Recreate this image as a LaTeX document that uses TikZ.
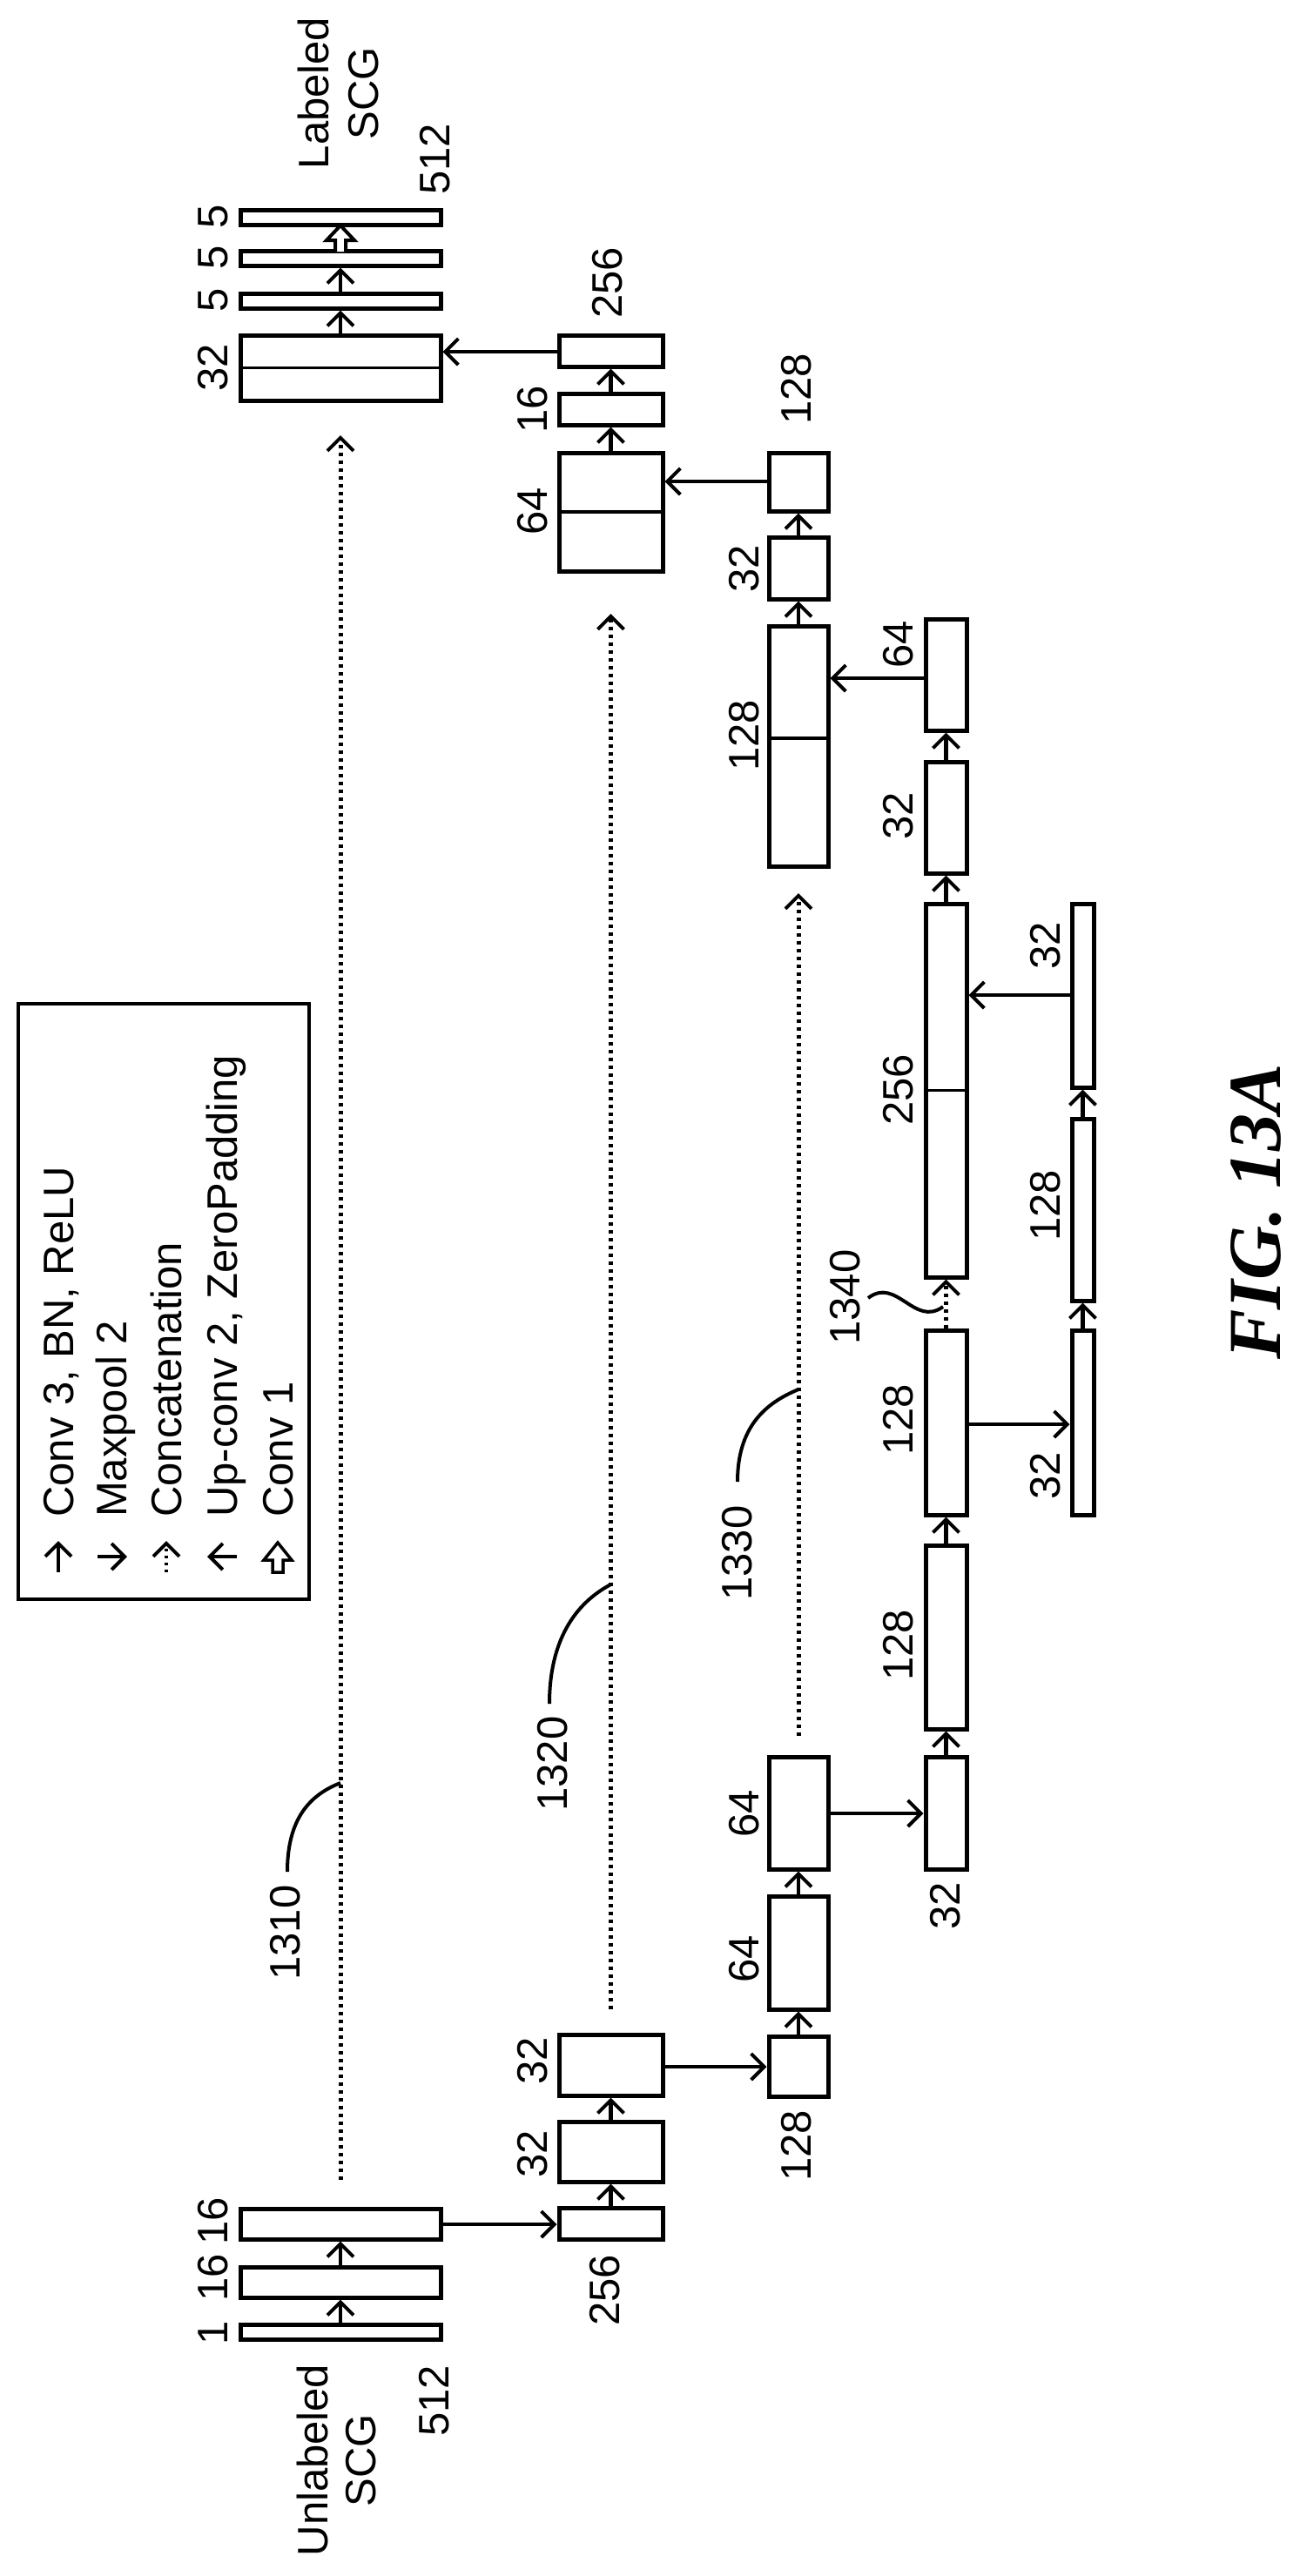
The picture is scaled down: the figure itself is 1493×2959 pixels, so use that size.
\documentclass[tikz,border=0pt]{standalone}
\usepackage{fontspec}
\setmainfont{Liberation Sans}
\newfontfamily\figfont{Liberation Serif}
\usetikzlibrary{arrows.meta}
\begin{document}
\begin{tikzpicture}[x=1pt,y=-1pt,
  box/.style={draw,line width=5pt,inner sep=0pt,rectangle},
  div/.style={line width=3.5pt},
  lab/.style={rotate=90,inner sep=0pt,font=\fontsize{49}{50}\selectfont},
  leg/.style={rotate=90,inner sep=0pt,anchor=base west,font=\fontsize{49}{50}\selectfont},
  tip/.style={-{Straight Barb[length=15pt,width=30pt,line width=4pt]}},
  conv/.style={tip,line width=4.5pt},
  pool/.style={tip,line width=4.5pt},
  up/.style={tip,line width=4.5pt},
  cat/.style={tip,line width=5pt,dash pattern=on 4pt off 5pt},
  lead/.style={line width=4pt},
  hollow/.style={draw,line width=4pt,fill=white,line join=miter}]
\useasboundingbox (0,0) rectangle (1493,2959);
\newcommand{\bx}[5]{\node[box,minimum width=#4pt,minimum height=#5pt] (#1) at (#2,#3) {};}
% output column
\bx{o5c}{391}{249.5}{230}{17}
\bx{o5b}{391}{296.5}{230}{17}
\bx{o5a}{391}{345.5}{230}{17}
\bx{o32}{391}{422.5}{230}{75}
\draw[div] (o32.west) -- (o32.east);
% input column
\bx{i16b}{391}{2554.5}{230}{35}
\bx{i16a}{391}{2621.5}{230}{35}
\bx{i1}{391}{2678.5}{230}{17}
% col 2
\bx{d256}{701.5}{403}{119}{36}
\bx{d16}{701.5}{470}{119}{36}
\bx{d64}{701.5}{588}{119}{136}
\draw[div] (d64.west) -- (d64.east);
\bx{e256}{701.5}{2554}{119}{36}
\bx{e32b}{701.5}{2471.5}{119}{69}
\bx{e32a}{701.5}{2372}{119}{70}
% col 3
\bx{d128s}{917}{553.5}{68}{67}
\bx{d32}{917}{652.5}{68}{71}
\bx{d128c}{917}{857}{68}{276}
\draw[div] (d128c.west |- 0,848) -- (d128c.east |- 0,848);
\bx{e128}{917}{2373.5}{68}{69}
\bx{e64b}{917}{2243}{68}{130}
\bx{e64a}{917}{2082.5}{68}{129}
% col 4
\bx{c64}{1086.5}{775}{47}{128}
\bx{c32}{1086.5}{939}{47}{128}
\bx{c256}{1086.5}{1252.5}{47}{429}
\draw[div] (c256.west) -- (c256.east);
\bx{c128b}{1086.5}{1634}{47}{212}
\bx{c128a}{1086.5}{1880.5}{47}{211}
\bx{c32e}{1086.5}{2082.5}{47}{129}
% col 5
\bx{b32t}{1243.5}{1143.5}{25}{211}
\bx{b128}{1243.5}{1389.5}{25}{209}
\bx{b32b}{1243.5}{1634}{25}{212}
% conv 3 arrows
\foreach \a/\b in {i1/i16a,i16a/i16b,e256/e32b,e32b/e32a,e128/e64b,e64b/e64a,
  c32e/c128a,c128a/c128b,c256/c32,c32/c64,d128c/d32,d32/d128s,d64/d16,d16/d256,o32/o5a,o5a/o5b,b32b/b128,b128/b32t}
  \draw[conv] (\a.north) -- (\b.south);
% conv 1
\draw[hollow] (385,289) -- (385,276) -- (375,276) -- (391,259) -- (407,276) -- (397,276) -- (397,289);
% maxpool
\draw[pool] (i16b.east |- 0,2555) -- (e256.west |- 0,2555);
\draw[pool] (e32a.east |- 0,2374) -- (e128.west |- 0,2374);
\draw[pool] (e64a.east |- 0,2083) -- (c32e.west |- 0,2083);
\draw[pool] (c128b.east |- 0,1636) -- (b32b.west |- 0,1636);
% up-conv
\draw[up] (b32t.west |- 0,1143) -- (c256.east |- 0,1143);
\draw[up] (c64.west |- 0,779) -- (d128c.east |- 0,779);
\draw[up] (d128s.west |- 0,553) -- (d64.east |- 0,553);
\draw[up] (d256.west |- 0,404) -- (o32.east |- 0,404);
% concatenation
\coordinate (s1310) at (391,2504); \coordinate (t1310) at (391,500);
\coordinate (s1320) at (701.5,2308); \coordinate (t1320) at (701.5,705);
\coordinate (s1330) at (917,1994); \coordinate (t1330) at (917,1026);
\draw[cat] (s1310) -- (t1310);
\draw[cat] (s1320) -- (t1320);
\draw[cat] (s1330) -- (t1330);
\draw[cat] (c128b.north) -- (c256.south);
% leaders
\draw[lead] (330,2150) .. controls (330,2090) and (355,2062) .. (391,2048);
\draw[lead] (631,1957) .. controls (631,1885) and (660,1842) .. (701.5,1820);
\draw[lead] (847,1702) .. controls (847,1640) and (878,1612) .. (917,1596);
\draw[lead] (997,1491) .. controls (1030,1466) and (1050,1525) .. (1083,1501);
% labels
\node[lab] (lLab) at (360,107) {Labeled};
\node[lab] (lSCGo) at (418,107) {SCG};
\node[lab] (l512o) at (500,183) {512};
\node[lab] (l5c) at (245,249) {5};
\node[lab] (l5b) at (245,296) {5};
\node[lab] (l5a) at (245,345) {5};
\node[lab] (l32o) at (245,422) {32};
\node[lab] (ld256) at (698,325) {256};
\node[lab] (ld16) at (612,470) {16};
\node[lab] (ld64) at (612,587) {64};
\node[lab] (ld128s) at (915,447) {128};
\node[lab] (ld32) at (855,653) {32};
\node[lab] (ld128c) at (855,845) {128};
\node[lab] (lc64) at (1032,740) {64};
\node[lab] (lc32) at (1032,937) {32};
\node[lab] (lc256) at (1032,1252) {256};
\node[lab] (lc128b) at (1032,1631) {128};
\node[lab] (lc128a) at (1032,1890) {128};
\node[lab] (lc32e) at (1086,2189) {32};
\node[lab] (lb32t) at (1201,1086) {32};
\node[lab] (lb128) at (1201,1385) {128};
\node[lab] (lb32b) at (1201,1695) {32};
\node[lab] (n1330) at (847,1784) {1330};
\node[lab] (n1340) at (971,1490) {1340};
\node[lab] (n1320) at (635,2026) {1320};
\node[lab] (n1310) at (328,2220) {1310};
\node[lab] (le64a) at (855,2083) {64};
\node[lab] (le64b) at (855,2250) {64};
\node[lab] (le128) at (915,2465) {128};
\node[lab] (le32a) at (612,2367) {32};
\node[lab] (le32b) at (612,2474) {32};
\node[lab] (le256) at (695,2631) {256};
\node[lab] (li16b) at (245,2551) {16};
\node[lab] (li16a) at (245,2616) {16};
\node[lab] (li1) at (245,2680) {1};
\node[lab] (lUn) at (359,2826) {Unlabeled};
\node[lab] (lSCGi) at (415,2826) {SCG};
\node[lab] (l512i) at (499,2758) {512};
\node[rotate=90,inner sep=0pt,font=\figfont\bfseries\itshape\fontsize{86}{90}\selectfont] (fig) at (1443,1392) {FIG. 13A};
% legend
\node[draw,line width=4pt,minimum width=334pt,minimum height=684pt,inner sep=0pt] (legbox) at (188,1495) {};
\node[leg] (t1) at (84,1743) {Conv 3, BN, ReLU};
\node[leg] (t2) at (145,1743) {Maxpool 2};
\node[leg] (t3) at (208,1743) {Concatenation};
\node[leg] (t4) at (272,1743) {Up-conv 2, ZeroPadding};
\node[leg] (t5) at (336,1743) {Conv 1};
\coordinate (a1s) at (67,1806); \coordinate (a1e) at (67,1770);
\coordinate (a2s) at (112,1788); \coordinate (a2e) at (146,1788);
\coordinate (a3s) at (191,1806); \coordinate (a3e) at (191,1770);
\coordinate (a4s) at (272,1788); \coordinate (a4e) at (238,1788);
\draw[tip,line width=3.5pt] (a1s) -- (a1e);
\draw[tip,line width=3.5pt] (a2s) -- (a2e);
\draw[tip,line width=3.5pt,dash pattern=on 3.5pt off 4.5pt] (a3s) -- (a3e);
\draw[tip,line width=3.5pt] (a4s) -- (a4e);
\draw[hollow,line width=3.5pt] (313,1806) -- (313,1792) -- (303,1792) -- (319,1772) -- (335,1792) -- (325,1792) -- (325,1806) -- cycle;
\end{tikzpicture}
\end{document}
